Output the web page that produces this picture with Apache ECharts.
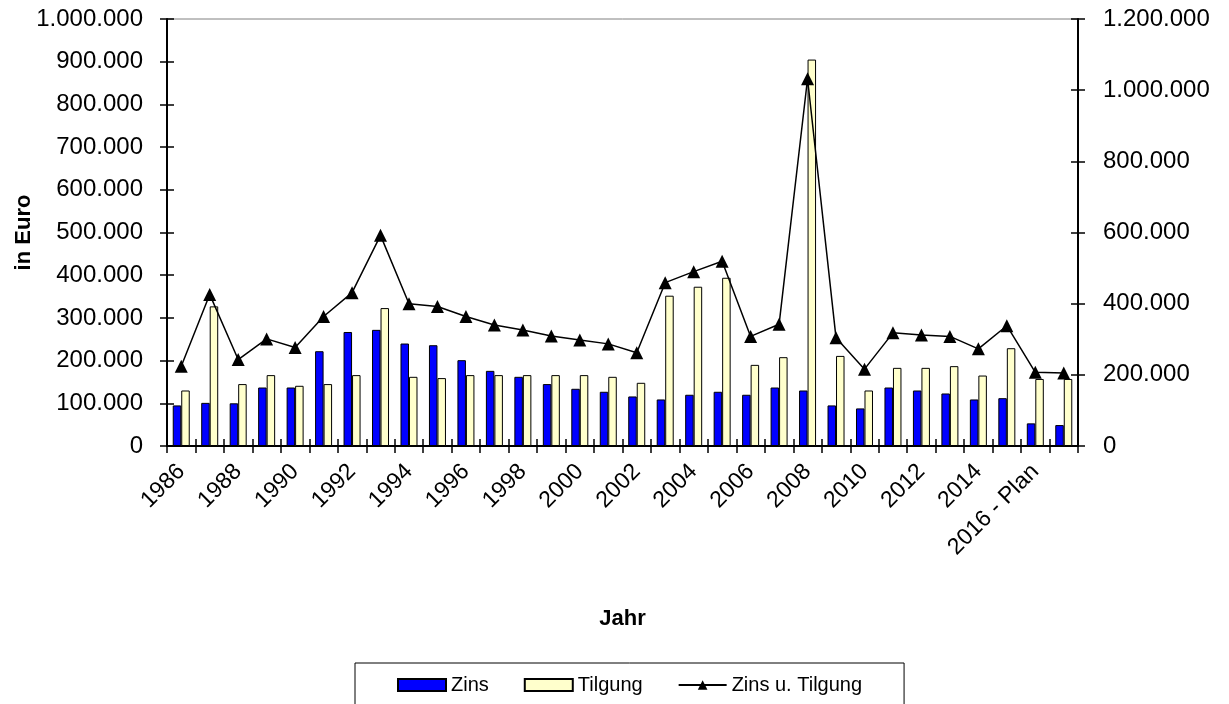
<!DOCTYPE html>
<html>
<head>
<meta charset="utf-8">
<script src="https://cdn.jsdelivr.net/npm/echarts@6/dist/echarts.min.js"></script>
<style>
html,body{margin:0;padding:0;background:#fff;}
#chart{width:1229px;height:704px;}
</style>
</head>
<body>
<div id="chart"></div>
<script>
var years = ['1986','1987','1988','1989','1990','1991','1992','1993','1994','1995','1996','1997','1998','1999','2000','2001','2002','2003','2004','2005','2006','2007','2008','2009','2010','2011','2012','2013','2014','2015','2016 - Plan','2017 - Plan'];
var zins = [95000,101000,100000,137000,137000,222000,267000,272000,240000,236000,201000,176000,162000,145000,134000,127000,116000,109000,120000,127000,120000,137000,130000,95000,88000,137000,130000,123000,109000,112000,53000,49000];
var tilgung = [130000,327000,145000,166000,141000,145000,166000,323000,162000,159000,166000,166000,166000,166000,166000,162000,148000,352000,373000,394000,190000,208000,905000,211000,130000,183000,183000,187000,165000,229000,157000,157000];
var zinsTilgung = [224000,426000,243000,301000,277000,364000,431000,592000,400000,392000,364000,340000,326000,309000,298000,287000,262000,459000,490000,519000,308000,342000,1032000,304000,216000,318000,312000,308000,273000,338000,207000,205000];

var FONT = "'Liberation Sans', Arial, sans-serif";
function fmt(v){ return String(v).replace(/\B(?=(\d{3})+(?!\d))/g, '.'); }

var chart = echarts.init(document.getElementById('chart'));
chart.setOption({
  animation: false,
  backgroundColor: '#ffffff',
  textStyle: { fontFamily: FONT, color: '#000' },
  grid: { left: 167, right: 151, top: 19, bottom: 258, containLabel: false, outerBoundsMode: 'none', show: true, borderColor: '#808080', borderWidth: 1, backgroundColor: 'transparent' },
  legend: {
    left: 355, top: 663,
    padding: [12, 42, 14, 42],
    borderColor: '#000', borderWidth: 1,
    itemWidth: 48, itemHeight: 12, itemGap: 35,
    textStyle: { fontFamily: FONT, fontSize: 20, color: '#000' },
    data: [{ name: 'Zins', icon: 'rect' }, { name: 'Tilgung', icon: 'rect' }, { name: 'Zins u. Tilgung' }]
  },
  xAxis: [{
    type: 'category', data: years, position: 'bottom',
    name: 'Jahr', nameLocation: 'middle', nameGap: 162, nameMoveOverlap: false,
    nameTextStyle: { fontFamily: FONT, fontSize: 22, fontWeight: 'bold', color: '#000' },
    axisLine: { show: true, lineStyle: { color: '#000', width: 2 } },
    axisTick: { show: true, interval: 0, length: 7, inside: false, lineStyle: { color: '#000', width: 1.5 } },
    axisLabel: { interval: 1, rotate: 45, margin: 22, fontFamily: FONT, fontSize: 23, color: '#000' }
  }, {
    type: 'category', data: years, position: 'bottom',
    axisLine: { show: false },
    axisTick: { show: true, interval: 0, length: 7, inside: true, lineStyle: { color: '#000', width: 1.5 } },
    axisLabel: { show: false }
  }],
  yAxis: [{
    type: 'value', position: 'left', min: 0, max: 1000000, interval: 100000,
    name: 'in Euro', nameLocation: 'middle', nameGap: 132, nameRotate: 90, nameMoveOverlap: false,
    nameTextStyle: { fontFamily: FONT, fontSize: 22, fontWeight: 'bold', color: '#000' },
    axisLine: { show: true, lineStyle: { color: '#000', width: 2 } },
    axisTick: { show: true, length: 7, lineStyle: { color: '#000', width: 1.5 } },
    axisLabel: { margin: 24, formatter: fmt, fontFamily: FONT, fontSize: 24, color: '#000' },
    splitLine: { show: false }
  }, {
    type: 'value', position: 'right', min: 0, max: 1200000, interval: 200000,
    axisLine: { show: true, lineStyle: { color: '#000', width: 2 } },
    axisTick: { show: true, length: 7, lineStyle: { color: '#000', width: 1.5 } },
    axisLabel: { margin: 25, formatter: fmt, fontFamily: FONT, fontSize: 24, color: '#000' },
    splitLine: { show: false }
  }, {
    type: 'value', position: 'left', min: 0, max: 1000000, interval: 100000,
    axisLine: { show: false },
    axisTick: { show: true, inside: true, length: 7, lineStyle: { color: '#000', width: 1.5 } },
    axisLabel: { show: false }, splitLine: { show: false }
  }, {
    type: 'value', position: 'right', min: 0, max: 1200000, interval: 200000,
    axisLine: { show: false },
    axisTick: { show: true, inside: true, length: 7, lineStyle: { color: '#000', width: 1.5 } },
    axisLabel: { show: false }, splitLine: { show: false }
  }],
  series: [{
    name: 'Zins', type: 'bar', xAxisIndex: 0, yAxisIndex: 0, data: zins,
    barWidth: 8.5, barGap: '0%',
    itemStyle: { color: '#0000FF', borderColor: '#000', borderWidth: 1 }
  }, {
    name: 'Tilgung', type: 'bar', xAxisIndex: 0, yAxisIndex: 0, data: tilgung,
    barWidth: 8.5, barGap: '0%',
    itemStyle: { color: '#FFFFCC', borderColor: '#000', borderWidth: 1 }
  }, {
    name: 'Zins u. Tilgung', type: 'line', xAxisIndex: 0, yAxisIndex: 1, data: zinsTilgung,
    symbol: 'triangle', symbolSize: 13, showSymbol: true,
    lineStyle: { color: '#000', width: 1.5 },
    itemStyle: { color: '#000' }
  }]
});
</script>
</body>
</html>
